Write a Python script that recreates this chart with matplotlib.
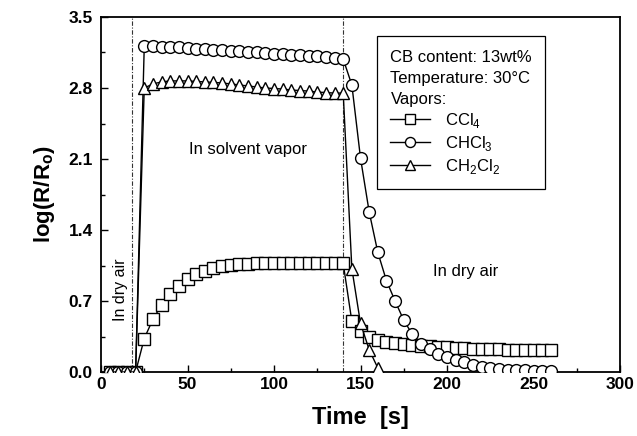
import matplotlib
matplotlib.use("Agg")
import matplotlib.pyplot as plt
from matplotlib.ticker import MultipleLocator

plt.rcParams['font.family'] = ['Liberation Sans', 'DejaVu Sans']
plt.rcParams['mathtext.fontset'] = 'custom'
plt.rcParams['mathtext.rm'] = 'Liberation Sans'
plt.rcParams['mathtext.bf'] = 'Liberation Sans:bold'

# time axis (s), one reading every 5 s
time_s = [5, 10, 15, 20,
          25, 30, 35, 40, 45, 50, 55, 60, 65, 70, 75, 80, 85, 90,
          95, 100, 105, 110, 115, 120, 125, 130, 135, 140,
          145, 150, 155, 160, 165, 170, 175, 180, 185, 190, 195, 200,
          205, 210, 215, 220, 225, 230, 235, 240, 245, 250, 255, 260]

ccl4 = [0, 0, 0, 0,
        0.33, 0.52, 0.66, 0.77, 0.85, 0.92, 0.97, 1.00, 1.03, 1.045, 1.055, 1.06, 1.065, 1.07,
        1.07, 1.07, 1.075, 1.075, 1.075, 1.075, 1.075, 1.07, 1.07, 1.07,
        0.50, 0.40, 0.35, 0.32, 0.30, 0.29, 0.28, 0.27, 0.26, 0.255, 0.25, 0.245,
        0.24, 0.235, 0.23, 0.23, 0.225, 0.225, 0.22, 0.22, 0.22, 0.215, 0.215, 0.215]

chcl3 = [0, 0, 0, 0,
         3.21, 3.21, 3.205, 3.20, 3.20, 3.19, 3.185, 3.18, 3.175, 3.17, 3.165, 3.16, 3.155, 3.15,
         3.145, 3.14, 3.135, 3.13, 3.125, 3.12, 3.115, 3.11, 3.10, 3.085,
         2.83, 2.11, 1.58, 1.18, 0.90, 0.70, 0.51, 0.37, 0.28, 0.23, 0.18, 0.15,
         0.12, 0.10, 0.07, 0.05, 0.04, 0.03, 0.02, 0.02, 0.015, 0.01, 0.01, 0.01]

ch2cl2 = [0, 0, 0, 0,
          2.80, 2.84, 2.86, 2.87, 2.87, 2.87, 2.865, 2.86, 2.855, 2.85, 2.84, 2.83, 2.82, 2.81,
          2.80, 2.795, 2.79, 2.78, 2.775, 2.77, 2.76, 2.755, 2.75, 2.75,
          1.02, 0.48, 0.22, 0.04]

switch_times = [18, 140]

fig = plt.figure(figsize=(6.37, 4.36), dpi=100)
ax = fig.add_axes([101 / 637, 64 / 436, 519 / 637, 355 / 436])

for t in switch_times:
    ax.axvline(t, color='0.2', lw=0.8, ls=(0, (4, 1.5, 1, 1.5)), zorder=1)

mk = dict(color='black', lw=1.0, mfc='white', mec='black', mew=1.0, ms=8.5, zorder=3)
l1, = ax.plot(time_s, ccl4, marker='s', label='CCl$_\\mathregular{4}$', **mk)
l2, = ax.plot(time_s, chcl3, marker='o', label='CHCl$_\\mathregular{3}$', **mk)
l3, = ax.plot(time_s[:len(ch2cl2)], ch2cl2, marker='^', label='CH$_\\mathregular{2}$Cl$_\\mathregular{2}$',
              **mk)

ax.set_xlim(0, 300)
ax.set_ylim(0, 3.5)
ax.xaxis.set_major_locator(MultipleLocator(50))
ax.xaxis.set_minor_locator(MultipleLocator(25))
ax.yaxis.set_major_locator(MultipleLocator(0.7))
ax.yaxis.set_minor_locator(MultipleLocator(0.35))
ax.yaxis.set_major_formatter(plt.FormatStrFormatter('%.1f'))
ax.tick_params(which='both', direction='in', width=1.0, labelsize=12.5)
ax.tick_params(which='major', length=5)
ax.tick_params(which='minor', length=3)
ax.tick_params(axis='y', pad=6)
for lab in ax.get_xticklabels() + ax.get_yticklabels():
    lab.set_fontweight('bold')
for sp in ax.spines.values():
    sp.set_linewidth(1.3)

ax.set_xlabel('Time  [s]', fontsize=17, fontweight='bold', labelpad=10)
ax.set_ylabel('log(R/R$_\\mathbf{o}$)', fontsize=16, fontweight='bold', labelpad=8)

ax.text(85, 2.19, 'In solvent vapor', fontsize=12, ha='center', va='center')
ax.text(11, 0.81, 'In dry air', fontsize=11.5, ha='center', va='center', rotation=90)
ax.text(211, 0.99, 'In dry air', fontsize=12, ha='center', va='center')

leg = ax.legend(handles=[l1, l2, l3], loc='upper left', bbox_to_anchor=(0.532, 0.946),
                borderaxespad=0,
                title='CB content: 13wt%\nTemperature: 30°C\nVapors:', alignment='left',
                fontsize=12, title_fontsize=12, frameon=True, fancybox=False,
                edgecolor='black', framealpha=1, handlelength=2.4, handletextpad=0.9,
                labelspacing=0.25, borderpad=0.8, markerscale=0.85)
leg.get_frame().set_linewidth(0.9)
leg.get_title().set_linespacing(1.5)

fig.savefig('out.png', dpi=100)
